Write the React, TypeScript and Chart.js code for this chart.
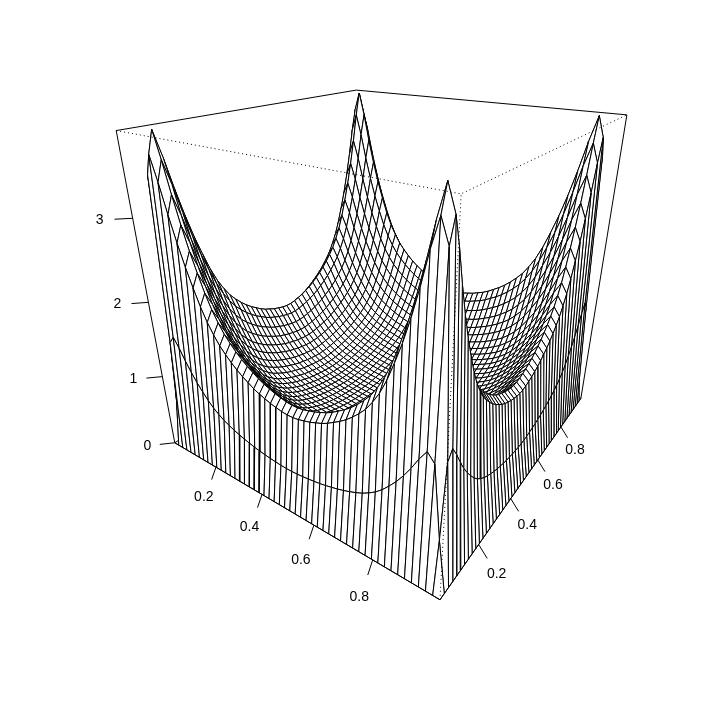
import React, { useEffect, useRef } from "react";
import { Chart, registerables } from "chart.js";

Chart.register(...registerables);

// Height profile; the surface height at a grid node is the
// product of the profile at its two indices.
const profile = [
  0, 0.8, 1.86, 1.98, 1.83, 1.65, 1.49, 1.35, 1.23, 1.12, 1.03, 0.96, 0.9, 0.855, 0.815, 0.78, 0.75, 0.725, 0.7, 0.68, 0.665, 0.65, 0.64, 0.63, 0.625,
  0.625, 0.63, 0.64, 0.65, 0.665, 0.68, 0.7, 0.725, 0.75, 0.78, 0.815, 0.855, 0.9, 0.96, 1.03, 1.12, 1.23, 1.35, 1.49, 1.65, 1.83, 1.98, 1.86, 0.8, 0,
];
const xTicks = [0.2, 0.4, 0.6, 0.8];
const yTicks = [0.2, 0.4, 0.6, 0.8];
const zTicks = [0, 1, 2, 3];
const zMax = 3.92;

// persp() view
const THETA = (35 * Math.PI) / 180;
const PHI = (25 * Math.PI) / 180;
const R = Math.sqrt(3);
const D = 1;
const SCALE = 604;
const CX = 388.7;
const CY = 287.6;

const ROW = profile.length;
const gridPos = (i: number) => i / (ROW - 1);

function project(x: number, y: number, z: number) {
  const X = 2 * x - 1;
  const Y = 2 * y - 1;
  const Z = (2 * z) / zMax - 1;
  const c = Math.cos(THETA), s = Math.sin(THETA);
  const cp = Math.cos(PHI), sp = Math.sin(PHI);
  const a = X * c + Y * s;
  const b = X * s - Y * c;
  const yy = Z * cp - b * sp;
  const zz = Z * sp + b * cp;
  const w = 1 + (R + D - zz) / D;
  return { x: CX + (SCALE * a) / w, y: CY - (SCALE * yy) / w };
}

const LW = 1;
function lineDs(pts: { x: number; y: number }[], dashed = false) {
  return {
    data: pts,
    showLine: true,
    pointRadius: 0,
    borderColor: "#000",
    borderWidth: LW,
    borderDash: dashed ? [1, 3] : [],
    fill: false,
    tension: 0,
  };
}

function buildDatasets() {
  const ds: any[] = [];
  const zT = zMax;
  // the array's first entries are painted last
  ds.push(lineDs([project(0, 0, zT), project(1, 0, zT), project(1, 1, zT)], true));
  ds.push(lineDs([project(1, 0, 0), project(1, 0, zT)], true));
  ds.push(lineDs([project(0, 0, 0), project(1, 0, 0), project(1, 1, 0)]));

  const tY = 0.022, tX = 0.0275, tZ = 0.033 * zMax;
  for (const v of xTicks) ds.push(lineDs([project(v, 0, 0), project(v, -tY, -tZ)]));
  for (const v of yTicks) ds.push(lineDs([project(1, v, 0), project(1 + tX, v, -tZ)]));
  for (const v of zTicks) ds.push(lineDs([project(0, 0, v), project(-0.033, -0.033, v)]));

  for (let i = ROW - 2; i >= 0; i--) {
    for (let j = 0; j < ROW - 1; j++) {
      const node = (a: number, b: number) => project(gridPos(a), gridPos(b), profile[a] * profile[b]);
      const p = node(i, j);
      ds.push({
        data: [p, node(i + 1, j), node(i + 1, j + 1), node(i, j + 1), p],
        showLine: true,
        pointRadius: 0,
        borderColor: "#000",
        borderWidth: LW,
        backgroundColor: "#fff",
        fill: "shape",
        tension: 0,
      });
    }
  }

  ds.push(lineDs([project(0, 0, 0), project(0, 0, zT), project(0, 1, zT), project(1, 1, zT), project(1, 1, 0)]));
  return ds;
}

const tickLabels = {
  id: "tickLabels",
  afterDraw(chart: any) {
    const { ctx } = chart;
    const sx = chart.scales.x, sy = chart.scales.y;
    const put = (text: string, p: { x: number; y: number }) =>
      ctx.fillText(text, sx.getPixelForValue(p.x), sy.getPixelForValue(p.y));
    ctx.save();
    ctx.font = '14px "Liberation Sans"';
    ctx.fillStyle = "#000";
    ctx.textAlign = "center";
    ctx.textBaseline = "middle";
    for (const v of xTicks) put(String(v), project(v, -0.059, -0.076 * zMax));
    for (const v of yTicks) put(String(v), project(1 + 0.0578, v, -0.07 * zMax));
    for (const v of zTicks) put(String(v), project(-0.06, -0.06, v));
    ctx.restore();
  },
};

export default function App() {
  const ref = useRef<HTMLCanvasElement>(null);
  useEffect(() => {
    const chart = new Chart(ref.current!, {
      type: "scatter",
      data: { datasets: buildDatasets() },
      plugins: [tickLabels],
      options: {
        animation: false,
        responsive: false,
        devicePixelRatio: 1,
        layout: { padding: 0 },
        events: [],
        scales: {
          x: { type: "linear", min: 0, max: 708, display: false },
          y: { type: "linear", min: 0, max: 708, reverse: true, display: false },
        },
        plugins: {
          legend: { display: false },
          tooltip: { enabled: false },
          filler: { propagate: false, drawTime: "beforeDatasetDraw" },
        },
      },
    } as any);
    return () => chart.destroy();
  }, []);
  return (
    <div style={{ position: "absolute", left: 0, top: 0, width: 708, height: 708, background: "#fff" }}>
      <canvas ref={ref} width={708} height={708} style={{ display: "block" }} />
    </div>
  );
}
